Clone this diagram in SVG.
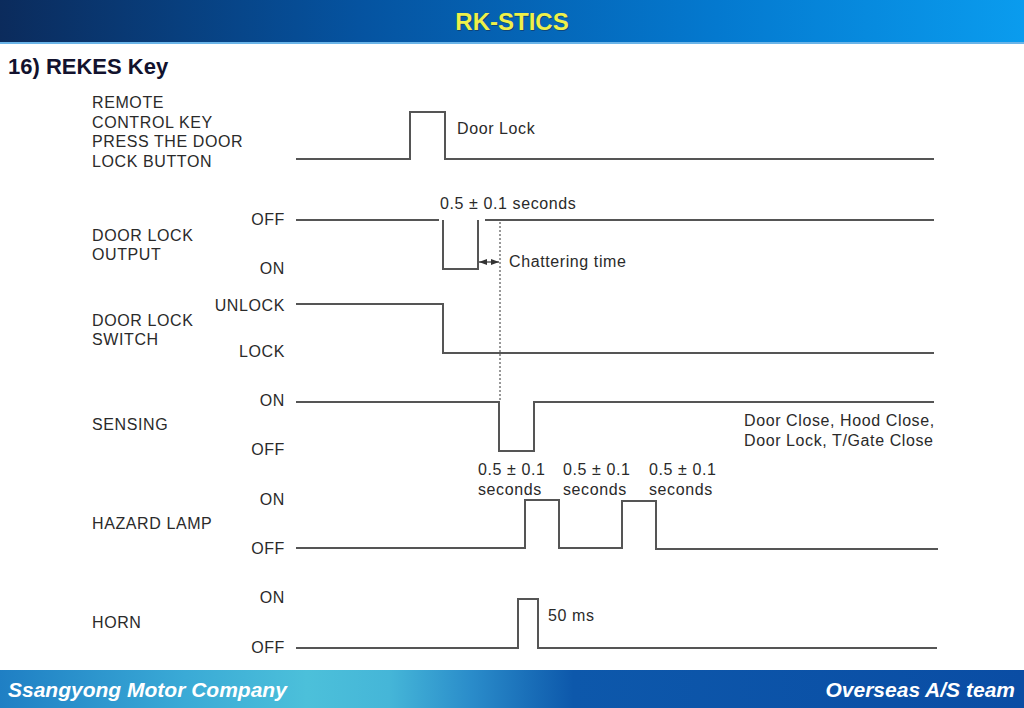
<svg xmlns="http://www.w3.org/2000/svg" width="1024" height="708" viewBox="0 0 1024 708">
<defs>
<linearGradient id="hdr" x1="0" y1="0" x2="1" y2="0">
<stop offset="0" stop-color="#0b2b5c"/>
<stop offset="0.35" stop-color="#0553a0"/>
<stop offset="0.7" stop-color="#0479cf"/>
<stop offset="1" stop-color="#0a9cee"/>
</linearGradient>
<linearGradient id="ftr" x1="0" y1="0" x2="1" y2="0">
<stop offset="0" stop-color="#1f7fc4"/>
<stop offset="0.18" stop-color="#3aaad6"/>
<stop offset="0.3" stop-color="#4cc0da"/>
<stop offset="0.38" stop-color="#45b6d8"/>
<stop offset="0.46" stop-color="#2a8cca"/>
<stop offset="0.56" stop-color="#0d58ab"/>
<stop offset="1" stop-color="#0a4da4"/>
</linearGradient>
<marker id="ah" viewBox="0 0 8 6" refX="8" refY="3" markerWidth="8" markerHeight="6" orient="auto-start-reverse" markerUnits="userSpaceOnUse">
<path d="M0,0 L8,3 L0,6 Z" fill="#333"/>
</marker>
<style>
.sig{fill:none;stroke:#555;stroke-width:2;stroke-linejoin:miter}
.t{font-family:"Liberation Sans",Arial,sans-serif;font-size:16px;fill:#2a2a2a;letter-spacing:0.6px}
.r{text-anchor:end}
.hd{font-family:"Liberation Sans",Arial,sans-serif;font-size:24px;font-weight:bold;text-anchor:middle}
.ft{font-family:"Liberation Sans",Arial,sans-serif;font-size:21px;font-weight:bold;font-style:italic;fill:#fff}
</style>
</defs>
<rect width="1024" height="708" fill="#fff"/>
<g id="header">
<rect x="0" y="0" width="1024" height="43" fill="url(#hdr)"/>
<rect x="0" y="42" width="1024" height="2" fill="#6ab4e8"/>
<text class="hd" x="513" y="31" fill="#1a2a40" opacity="0.5">RK-STICS</text>
<text class="hd" x="512" y="30" fill="#eef04a">RK-STICS</text>
</g>
<text id="title" x="8" y="74" font-family="'Liberation Sans',Arial,sans-serif" font-size="22" font-weight="bold" fill="#12122e">16) REKES Key</text>

<g id="remote">
<text class="t" x="92" y="108">REMOTE</text>
<text class="t" x="92" y="128">CONTROL KEY</text>
<text class="t" x="92" y="147">PRESS THE DOOR</text>
<text class="t" x="92" y="167">LOCK BUTTON</text>
<path class="sig" d="M296,159 H410 V112 H445 V159 H934"/>
<text class="t" x="457" y="134">Door Lock</text>
</g>

<g id="door-lock-output">
<text class="t" x="92" y="241">DOOR LOCK</text>
<text class="t" x="92" y="260">OUTPUT</text>
<text class="t r" x="285" y="225">OFF</text>
<text class="t r" x="285" y="274">ON</text>
<path class="sig" d="M296,220 H439"/>
<path class="sig" d="M443,220 V269 H478 V220"/>
<path class="sig" d="M485,220 H934"/>
<text class="t" x="440" y="209">0.5 ± 0.1 seconds</text>
<text class="t" x="509" y="267">Chattering time</text>
</g>

<g id="door-lock-switch">
<text class="t" x="92" y="326">DOOR LOCK</text>
<text class="t" x="92" y="345">SWITCH</text>
<text class="t r" x="285" y="311">UNLOCK</text>
<text class="t r" x="285" y="357">LOCK</text>
<path class="sig" d="M296,304 H443 V353 H934"/>
</g>

<g id="sensing">
<text class="t" x="92" y="430">SENSING</text>
<text class="t r" x="285" y="406">ON</text>
<text class="t r" x="285" y="455">OFF</text>
<path class="sig" d="M296,402 H499 V451 H534 V402 H934" stroke="#444"/>
<text class="t" x="744" y="426">Door Close, Hood Close,</text>
<text class="t" x="744" y="446">Door Lock, T/Gate Close</text>
</g>

<g id="hazard-lamp">
<text class="t" x="92" y="529">HAZARD LAMP</text>
<text class="t r" x="285" y="505">ON</text>
<text class="t r" x="285" y="554">OFF</text>
<path class="sig" d="M296,548 H525 V500 H559 V548 H622 V501 H656 V549 H938"/>
<text class="t" x="478" y="475">0.5 ± 0.1</text>
<text class="t" x="478" y="495">seconds</text>
<text class="t" x="563" y="475">0.5 ± 0.1</text>
<text class="t" x="563" y="495">seconds</text>
<text class="t" x="649" y="475">0.5 ± 0.1</text>
<text class="t" x="649" y="495">seconds</text>
</g>

<g id="horn">
<text class="t" x="92" y="628">HORN</text>
<text class="t r" x="285" y="603">ON</text>
<text class="t r" x="285" y="653">OFF</text>
<path class="sig" d="M296,648 H518 V599 H538 V648 H937" stroke="#444"/>
<text class="t" x="548" y="621">50 ms</text>
</g>

<g id="connectors">
<line x1="500" y1="222" x2="500" y2="401" stroke="#333" stroke-width="1" stroke-dasharray="2,2"/>
<line x1="479" y1="262" x2="499" y2="262" stroke="#333" stroke-width="1.2" marker-start="url(#ah)" marker-end="url(#ah)"/>
</g>

<g id="footer">
<rect x="0" y="670" width="1024" height="38" fill="url(#ftr)"/>
<text class="ft" x="8" y="697">Ssangyong Motor Company</text>
<text class="ft" x="1015" y="697" text-anchor="end">Overseas A/S team</text>
</g>
</svg>
